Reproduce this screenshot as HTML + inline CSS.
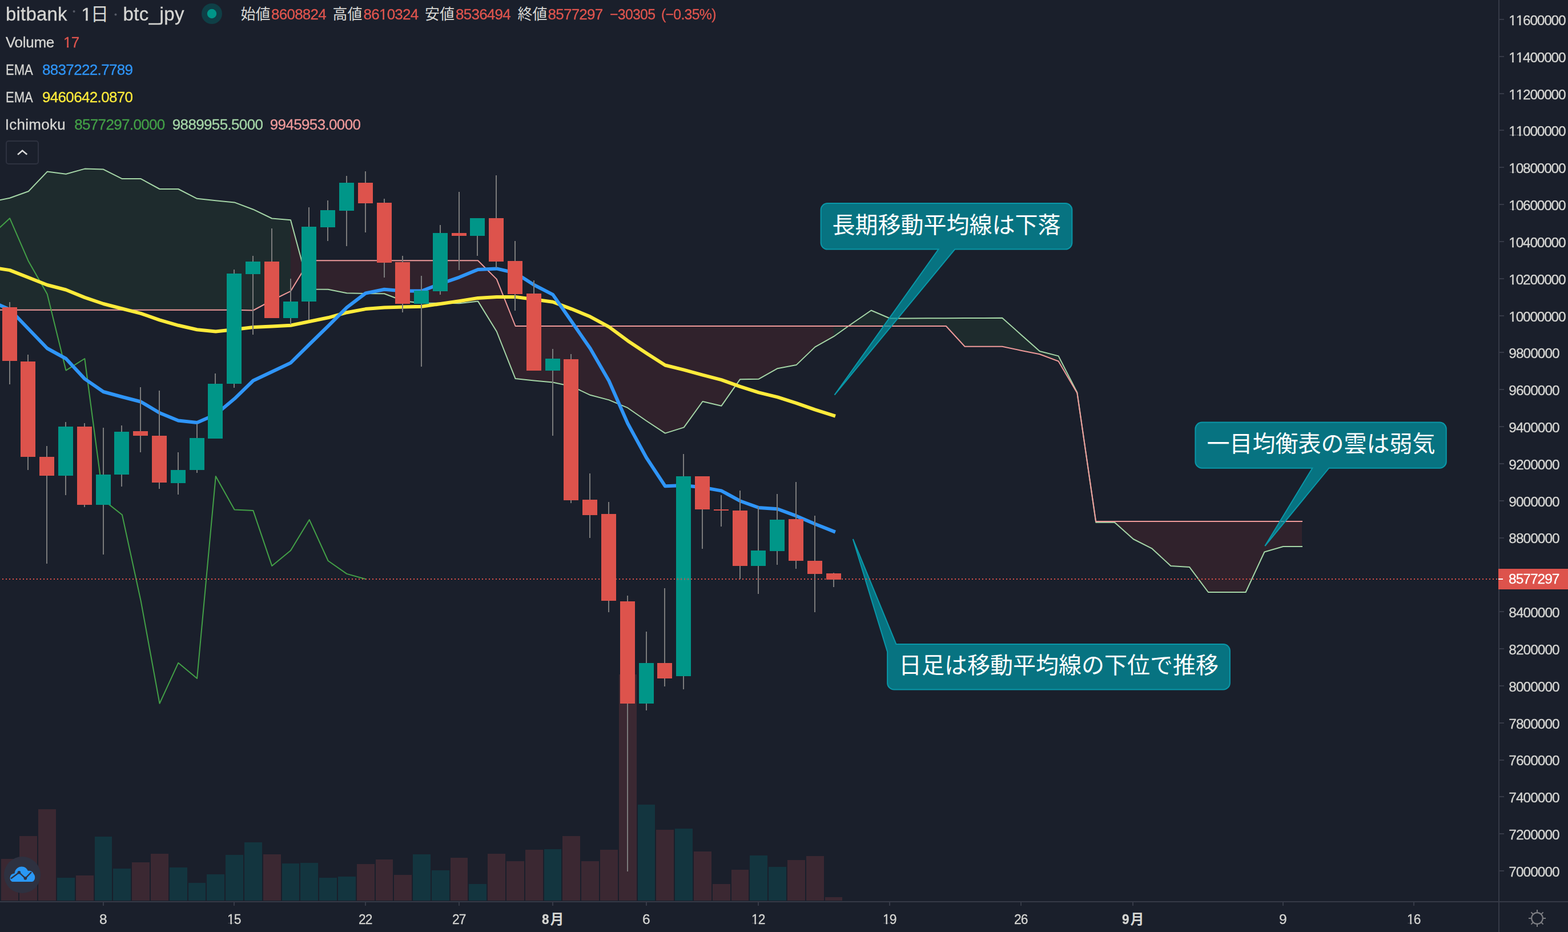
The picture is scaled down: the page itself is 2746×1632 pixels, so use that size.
<!DOCTYPE html>
<html lang="ja"><head><meta charset="utf-8"><title>bitbank btc_jpy 1日</title>
<style>
html,body{margin:0;padding:0;background:#1a1f2b;}
body{width:2746px;height:1632px;position:relative;overflow:hidden;font-family:"Liberation Sans",sans-serif;}
.t{position:absolute;white-space:nowrap;line-height:normal;transform-origin:0 0;-webkit-text-stroke:0.3px currentColor;font-family:"Liberation Sans",sans-serif;}
.o{display:inline-block;line-height:1;height:1em;vertical-align:baseline;clip-path:polygon(0 0,1em 0,1em 0.745em,0.35em 0.745em,0.35em 1em,0.24em 1em,0.24em 0.745em,0 0.745em);}
svg text{font-family:"Liberation Sans","Noto Sans CJK JP",sans-serif;}
</style></head><body>
<svg width="2746" height="1632" viewBox="0 0 2746 1632" style="position:absolute;left:0;top:0">
<g shape-rendering="crispEdges">
<rect x="2" y="1504" width="30" height="73" fill="#3b2832"/>
<rect x="34" y="1464" width="31" height="113" fill="#3b2832"/>
<rect x="67" y="1417" width="31" height="160" fill="#3b2832"/>
<rect x="100" y="1537" width="31" height="40" fill="#13353f"/>
<rect x="133" y="1533" width="31" height="44" fill="#3b2832"/>
<rect x="166" y="1465" width="30" height="112" fill="#13353f"/>
<rect x="198" y="1521" width="31" height="56" fill="#13353f"/>
<rect x="231" y="1510" width="31" height="67" fill="#3b2832"/>
<rect x="264" y="1495" width="31" height="82" fill="#3b2832"/>
<rect x="297" y="1519" width="31" height="58" fill="#13353f"/>
<rect x="330" y="1546" width="30" height="31" fill="#13353f"/>
<rect x="362" y="1531" width="31" height="46" fill="#13353f"/>
<rect x="395" y="1497" width="31" height="80" fill="#13353f"/>
<rect x="428" y="1475" width="31" height="102" fill="#13353f"/>
<rect x="461" y="1496" width="31" height="81" fill="#3b2832"/>
<rect x="494" y="1512" width="30" height="65" fill="#13353f"/>
<rect x="526" y="1511" width="31" height="66" fill="#13353f"/>
<rect x="559" y="1537" width="31" height="40" fill="#13353f"/>
<rect x="592" y="1535" width="31" height="42" fill="#13353f"/>
<rect x="625" y="1513" width="31" height="64" fill="#3b2832"/>
<rect x="658" y="1505" width="30" height="72" fill="#3b2832"/>
<rect x="690" y="1532" width="31" height="45" fill="#3b2832"/>
<rect x="723" y="1496" width="31" height="81" fill="#13353f"/>
<rect x="756" y="1524" width="31" height="53" fill="#13353f"/>
<rect x="789" y="1502" width="30" height="75" fill="#3b2832"/>
<rect x="821" y="1548" width="31" height="29" fill="#13353f"/>
<rect x="854" y="1495" width="31" height="82" fill="#3b2832"/>
<rect x="887" y="1508" width="31" height="69" fill="#3b2832"/>
<rect x="920" y="1488" width="31" height="89" fill="#3b2832"/>
<rect x="953" y="1487" width="30" height="90" fill="#13353f"/>
<rect x="985" y="1464" width="31" height="113" fill="#3b2832"/>
<rect x="1018" y="1508" width="31" height="69" fill="#3b2832"/>
<rect x="1051" y="1488" width="31" height="89" fill="#3b2832"/>
<rect x="1084" y="1181" width="31" height="396" fill="#3b2832"/>
<rect x="1117" y="1409" width="30" height="168" fill="#13353f"/>
<rect x="1149" y="1453" width="31" height="124" fill="#3b2832"/>
<rect x="1182" y="1451" width="31" height="126" fill="#13353f"/>
<rect x="1215" y="1491" width="31" height="86" fill="#3b2832"/>
<rect x="1248" y="1548" width="31" height="29" fill="#3b2832"/>
<rect x="1281" y="1523" width="30" height="54" fill="#3b2832"/>
<rect x="1313" y="1498" width="31" height="79" fill="#13353f"/>
<rect x="1346" y="1518" width="31" height="59" fill="#13353f"/>
<rect x="1379" y="1506" width="31" height="71" fill="#3b2832"/>
<rect x="1412" y="1499" width="31" height="78" fill="#3b2832"/>
<rect x="1445" y="1571" width="30" height="6" fill="#3b2832"/>
</g>
<g stroke="none">
<path d="M-15.7 353.3L17.1 346.8L49.9 335L82.7 300.6L115.5 304.7L148.3 295.6L181.1 296.6L213.9 313.1L246.7 313.1L279.5 331L312.3 331L345.1 347.8L377.8 351.2L410.6 354.4L443.4 366.7L476.2 382.5L509 385.2L509 509.8L476.2 526L443.4 543.5L410.6 542.8L377.8 542.8L345.1 542.8L312.3 542.8L279.5 542.8L246.7 542.8L213.9 542.8L181.1 542.8L148.3 542.8L115.5 542.8L82.7 542.8L49.9 542.8L17.1 542.8L-15.7 542.8Z" fill="rgba(67,160,71,0.1)"/>
<path d="M509 385.2L541.8 506.4L574.6 506.8L607.4 513.2L640.2 513.9L673 514.2L705.8 526.8L738.6 531L771.4 530.6L804.2 531.2L837 527.4L869.8 580.5L902.6 663.1L935.4 666.4L968.2 669.5L1001 676.5L1033.7 691.8L1066.5 700.4L1099.3 714.2L1132.1 737L1164.9 758.6L1197.7 748.4L1230.5 703L1263.3 710.8L1296.1 664.2L1328.9 663.7L1361.7 645.2L1394.5 639.1L1427.3 607.6L1460.1 589.2L1460.1 571L1427.3 571L1394.5 571L1361.7 571L1328.9 571L1296.1 571L1263.3 571L1230.5 571L1197.7 571L1164.9 571L1132.1 571L1099.3 571L1066.5 571L1033.7 571L1001 571L968.2 571L935.4 571L902.6 571L869.8 488.9L837 456.3L804.2 456.3L771.4 456.3L738.6 456.3L705.8 456.3L673 456.3L640.2 456.3L607.4 456.3L574.6 456.3L541.8 456.3L509 509.8Z" fill="rgba(244,67,54,0.1)"/>
<path d="M1460.1 589.2L1492.9 566L1525.7 543.5L1558.5 557.5L1591.3 557.4L1624.1 557.3L1656.8 557.2L1689.6 557.1L1722.4 557L1755.2 556.7L1788 585.9L1820.8 615L1853.6 623.4L1886.4 687.3L1886.4 688.3L1853.6 632.5L1820.8 620.2L1788 613.7L1755.2 606.8L1722.4 606.8L1689.6 606.8L1656.8 571L1624.1 571L1591.3 571L1558.5 571L1525.7 571L1492.9 571L1460.1 571Z" fill="rgba(67,160,71,0.1)"/>
<path d="M1886.4 687.3L1919.2 914.7L1952 914.7L1984.8 944L2017.6 960.7L2050.4 991L2083.2 993.1L2116 1037L2148.8 1037L2181.6 1037L2214.4 966.5L2247.2 957L2280 957L2280 913.1L2247.2 913.1L2214.4 913.1L2181.6 913.1L2148.8 913.1L2116 913.1L2083.2 913.1L2050.4 913.1L2017.6 913.1L1984.8 913.1L1952 913.1L1919.2 913.1L1886.4 688.3Z" fill="rgba(244,67,54,0.1)"/>
</g>
<polyline points="-15.7,353.3 17.1,346.8 49.9,335 82.7,300.6 115.5,304.7 148.3,295.6 181.1,296.6 213.9,313.1 246.7,313.1 279.5,331 312.3,331 345.1,347.8 377.8,351.2 410.6,354.4 443.4,366.7 476.2,382.5 509,385.2 541.8,506.4 574.6,506.8 607.4,513.2 640.2,513.9 673,514.2 705.8,526.8 738.6,531 771.4,530.6 804.2,531.2 837,527.4 869.8,580.5 902.6,663.1 935.4,666.4 968.2,669.5 1001,676.5 1033.7,691.8 1066.5,700.4 1099.3,714.2 1132.1,737 1164.9,758.6 1197.7,748.4 1230.5,703 1263.3,710.8 1296.1,664.2 1328.9,663.7 1361.7,645.2 1394.5,639.1 1427.3,607.6 1460.1,589.2 1492.9,566 1525.7,543.5 1558.5,557.5 1591.3,557.4 1624.1,557.3 1656.8,557.2 1689.6,557.1 1722.4,557 1755.2,556.7 1788,585.9 1820.8,615 1853.6,623.4 1886.4,687.3 1919.2,914.7 1952,914.7 1984.8,944 2017.6,960.7 2050.4,991 2083.2,993.1 2116,1037 2148.8,1037 2181.6,1037 2214.4,966.5 2247.2,957 2280,957" fill="none" stroke="#a5d6a7" stroke-width="2" stroke-linejoin="round" stroke-linecap="square"/>
<polyline points="-15.7,542.8 17.1,542.8 49.9,542.8 82.7,542.8 115.5,542.8 148.3,542.8 181.1,542.8 213.9,542.8 246.7,542.8 279.5,542.8 312.3,542.8 345.1,542.8 377.8,542.8 410.6,542.8 443.4,543.5 476.2,526 509,509.8 541.8,456.3 574.6,456.3 607.4,456.3 640.2,456.3 673,456.3 705.8,456.3 738.6,456.3 771.4,456.3 804.2,456.3 837,456.3 869.8,488.9 902.6,571 935.4,571 968.2,571 1001,571 1033.7,571 1066.5,571 1099.3,571 1132.1,571 1164.9,571 1197.7,571 1230.5,571 1263.3,571 1296.1,571 1328.9,571 1361.7,571 1394.5,571 1427.3,571 1460.1,571 1492.9,571 1525.7,571 1558.5,571 1591.3,571 1624.1,571 1656.8,571 1689.6,606.8 1722.4,606.8 1755.2,606.8 1788,613.7 1820.8,620.2 1853.6,632.5 1886.4,688.3 1919.2,913.1 1952,913.1 1984.8,913.1 2017.6,913.1 2050.4,913.1 2083.2,913.1 2116,913.1 2148.8,913.1 2181.6,913.1 2214.4,913.1 2247.2,913.1 2280,913.1" fill="none" stroke="#ef9a9a" stroke-width="2" stroke-linejoin="round" stroke-linecap="square"/>
<polyline points="-15.7,412.8 17.1,382.2 49.9,457.6 82.7,514.9 115.5,648.6 148.3,628 181.1,875.6 213.9,901.5 246.7,1052.4 279.5,1231.8 312.3,1160.7 345.1,1188 377.8,834.1 410.6,892.4 443.4,894.1 476.2,990.9 509,963.9 541.8,910.1 574.6,982 607.4,1004.9 640.2,1014" fill="none" stroke="#43a047" stroke-width="2" stroke-linejoin="round" stroke-linecap="square"/>
<polyline points="-15.7,468 17.1,473.1 49.9,486 82.7,499 115.5,507.5 148.3,520.9 181.1,532 213.9,540.5 246.7,548.9 279.5,560.3 312.3,569.8 345.1,577.2 377.8,580.5 410.6,577 443.4,573 476.2,571.5 509,569.8 541.8,563 574.6,556.3 607.4,547.2 640.2,541.1 673,538.4 705.8,537.6 738.6,536.8 771.4,532 804.2,527.2 837,521.9 869.8,519.9 902.6,519.9 935.4,524.3 968.2,528.7 1001,541.1 1033.7,554.6 1066.5,572.4 1099.3,596.7 1132.1,618.6 1164.9,639.5 1197.7,647.6 1230.5,656.7 1263.3,665.1 1296.1,676.9 1328.9,687.3 1361.7,695.4 1394.5,705.8 1427.3,717.3 1460.1,727.8" fill="none" stroke="#ffeb3b" stroke-width="6" stroke-linejoin="round" stroke-linecap="square"/>
<polyline points="-15.7,527.6 17.1,541.9 49.9,576 82.7,610 115.5,628 148.3,663.4 181.1,686 213.9,695 246.7,703.5 279.5,723 312.3,736.5 345.1,739.9 377.8,725.8 410.6,698.3 443.4,666.5 476.2,651 509,635.4 541.8,603 574.6,571 607.4,538.4 640.2,513.5 673,506.8 705.8,509.5 738.6,509.5 771.4,497 804.2,485.6 837,472.1 869.8,470.4 902.6,478 935.4,499 968.2,515.9 1001,563 1033.7,610.2 1066.5,667 1099.3,741.5 1132.1,801.5 1164.9,851.3 1197.7,850 1230.5,853.5 1263.3,859.4 1296.1,877.2 1328.9,889 1361.7,891.2 1394.5,903.4 1427.3,917.5 1460.1,930.5" fill="none" stroke="#2f95f8" stroke-width="6" stroke-linejoin="round" stroke-linecap="square"/>
<g shape-rendering="crispEdges">
<rect x="16" y="529" width="2" height="144" fill="#7b7b7b"/>
<rect x="4" y="538" width="26" height="94" fill="#dd534c"/>
<rect x="48" y="621" width="2" height="202" fill="#7b7b7b"/>
<rect x="36" y="633" width="26" height="167" fill="#dd534c"/>
<rect x="81" y="781" width="2" height="206" fill="#7b7b7b"/>
<rect x="69" y="800" width="26" height="33" fill="#dd534c"/>
<rect x="114" y="739" width="2" height="128" fill="#7b7b7b"/>
<rect x="102" y="747" width="26" height="86" fill="#009688"/>
<rect x="147" y="741" width="2" height="147" fill="#7b7b7b"/>
<rect x="135" y="747" width="26" height="137" fill="#dd534c"/>
<rect x="180" y="749" width="2" height="222" fill="#7b7b7b"/>
<rect x="168" y="831" width="26" height="53" fill="#009688"/>
<rect x="212" y="745" width="2" height="107" fill="#7b7b7b"/>
<rect x="200" y="756" width="26" height="75" fill="#009688"/>
<rect x="245" y="678" width="2" height="114" fill="#7b7b7b"/>
<rect x="233" y="755" width="26" height="8" fill="#dd534c"/>
<rect x="278" y="684" width="2" height="172" fill="#7b7b7b"/>
<rect x="266" y="763" width="26" height="82" fill="#dd534c"/>
<rect x="311" y="792" width="2" height="74" fill="#7b7b7b"/>
<rect x="299" y="823" width="26" height="23" fill="#009688"/>
<rect x="344" y="742" width="2" height="86" fill="#7b7b7b"/>
<rect x="332" y="767" width="26" height="56" fill="#009688"/>
<rect x="376" y="654" width="2" height="114" fill="#7b7b7b"/>
<rect x="364" y="672" width="26" height="96" fill="#009688"/>
<rect x="409" y="472" width="2" height="207" fill="#7b7b7b"/>
<rect x="397" y="479" width="26" height="193" fill="#009688"/>
<rect x="442" y="448" width="2" height="138" fill="#7b7b7b"/>
<rect x="430" y="458" width="26" height="22" fill="#009688"/>
<rect x="475" y="400" width="2" height="157" fill="#7b7b7b"/>
<rect x="463" y="458" width="26" height="99" fill="#dd534c"/>
<rect x="508" y="488" width="2" height="80" fill="#7b7b7b"/>
<rect x="496" y="528" width="26" height="29" fill="#009688"/>
<rect x="540" y="363" width="2" height="197" fill="#7b7b7b"/>
<rect x="528" y="397" width="26" height="131" fill="#009688"/>
<rect x="573" y="351" width="2" height="71" fill="#7b7b7b"/>
<rect x="561" y="368" width="26" height="30" fill="#009688"/>
<rect x="606" y="308" width="2" height="123" fill="#7b7b7b"/>
<rect x="594" y="320" width="26" height="49" fill="#009688"/>
<rect x="639" y="300" width="2" height="107" fill="#7b7b7b"/>
<rect x="627" y="320" width="26" height="36" fill="#dd534c"/>
<rect x="672" y="348" width="2" height="138" fill="#7b7b7b"/>
<rect x="660" y="355" width="26" height="105" fill="#dd534c"/>
<rect x="704" y="448" width="2" height="99" fill="#7b7b7b"/>
<rect x="692" y="459" width="26" height="73" fill="#dd534c"/>
<rect x="737" y="483" width="2" height="159" fill="#7b7b7b"/>
<rect x="725" y="509" width="26" height="23" fill="#009688"/>
<rect x="770" y="394" width="2" height="122" fill="#7b7b7b"/>
<rect x="758" y="408" width="26" height="102" fill="#009688"/>
<rect x="803" y="336" width="2" height="137" fill="#7b7b7b"/>
<rect x="791" y="408" width="26" height="5" fill="#dd534c"/>
<rect x="835" y="382" width="2" height="66" fill="#7b7b7b"/>
<rect x="823" y="382" width="26" height="31" fill="#009688"/>
<rect x="868" y="307" width="2" height="162" fill="#7b7b7b"/>
<rect x="856" y="382" width="26" height="76" fill="#dd534c"/>
<rect x="901" y="422" width="2" height="122" fill="#7b7b7b"/>
<rect x="889" y="457" width="26" height="58" fill="#dd534c"/>
<rect x="934" y="491" width="2" height="158" fill="#7b7b7b"/>
<rect x="922" y="514" width="26" height="135" fill="#dd534c"/>
<rect x="967" y="611" width="2" height="152" fill="#7b7b7b"/>
<rect x="955" y="628" width="26" height="21" fill="#009688"/>
<rect x="999" y="620" width="2" height="261" fill="#7b7b7b"/>
<rect x="987" y="629" width="26" height="247" fill="#dd534c"/>
<rect x="1032" y="829" width="2" height="113" fill="#7b7b7b"/>
<rect x="1020" y="875" width="26" height="27" fill="#dd534c"/>
<rect x="1065" y="879" width="2" height="193" fill="#7b7b7b"/>
<rect x="1053" y="900" width="26" height="152" fill="#dd534c"/>
<rect x="1098" y="1043" width="2" height="483" fill="#7b7b7b"/>
<rect x="1086" y="1053" width="26" height="179" fill="#dd534c"/>
<rect x="1131" y="1106" width="2" height="138" fill="#7b7b7b"/>
<rect x="1119" y="1161" width="26" height="71" fill="#009688"/>
<rect x="1163" y="1030" width="2" height="172" fill="#7b7b7b"/>
<rect x="1151" y="1161" width="26" height="27" fill="#dd534c"/>
<rect x="1196" y="795" width="2" height="412" fill="#7b7b7b"/>
<rect x="1184" y="834" width="26" height="350" fill="#009688"/>
<rect x="1229" y="834" width="2" height="127" fill="#7b7b7b"/>
<rect x="1217" y="834" width="26" height="58" fill="#dd534c"/>
<rect x="1262" y="867" width="2" height="55" fill="#7b7b7b"/>
<rect x="1250" y="892" width="26" height="2" fill="#dd534c"/>
<rect x="1295" y="859" width="2" height="155" fill="#7b7b7b"/>
<rect x="1283" y="894" width="26" height="97" fill="#dd534c"/>
<rect x="1327" y="887" width="2" height="153" fill="#7b7b7b"/>
<rect x="1315" y="964" width="26" height="27" fill="#009688"/>
<rect x="1360" y="865" width="2" height="124" fill="#7b7b7b"/>
<rect x="1348" y="910" width="26" height="55" fill="#009688"/>
<rect x="1393" y="844" width="2" height="152" fill="#7b7b7b"/>
<rect x="1381" y="909" width="26" height="73" fill="#dd534c"/>
<rect x="1426" y="903" width="2" height="169" fill="#7b7b7b"/>
<rect x="1414" y="982" width="26" height="23" fill="#dd534c"/>
<rect x="1459" y="1003" width="2" height="25" fill="#7b7b7b"/>
<rect x="1447" y="1004" width="26" height="11" fill="#dd534c"/>
</g>
<g shape-rendering="crispEdges">
<rect x="2624" y="0" width="2" height="1632" fill="#363a47"/>
<rect x="0" y="1578" width="2746" height="2" fill="#363a47"/>
<rect x="2626" y="33" width="8" height="2" fill="#363a47"/>
<rect x="2626" y="98" width="8" height="2" fill="#363a47"/>
<rect x="2626" y="163" width="8" height="2" fill="#363a47"/>
<rect x="2626" y="227" width="8" height="2" fill="#363a47"/>
<rect x="2626" y="292" width="8" height="2" fill="#363a47"/>
<rect x="2626" y="357" width="8" height="2" fill="#363a47"/>
<rect x="2626" y="422" width="8" height="2" fill="#363a47"/>
<rect x="2626" y="487" width="8" height="2" fill="#363a47"/>
<rect x="2626" y="552" width="8" height="2" fill="#363a47"/>
<rect x="2626" y="616" width="8" height="2" fill="#363a47"/>
<rect x="2626" y="681" width="8" height="2" fill="#363a47"/>
<rect x="2626" y="746" width="8" height="2" fill="#363a47"/>
<rect x="2626" y="811" width="8" height="2" fill="#363a47"/>
<rect x="2626" y="876" width="8" height="2" fill="#363a47"/>
<rect x="2626" y="941" width="8" height="2" fill="#363a47"/>
<rect x="2626" y="1005" width="8" height="2" fill="#363a47"/>
<rect x="2626" y="1070" width="8" height="2" fill="#363a47"/>
<rect x="2626" y="1135" width="8" height="2" fill="#363a47"/>
<rect x="2626" y="1200" width="8" height="2" fill="#363a47"/>
<rect x="2626" y="1265" width="8" height="2" fill="#363a47"/>
<rect x="2626" y="1330" width="8" height="2" fill="#363a47"/>
<rect x="2626" y="1394" width="8" height="2" fill="#363a47"/>
<rect x="2626" y="1459" width="8" height="2" fill="#363a47"/>
<rect x="2626" y="1524" width="8" height="2" fill="#363a47"/>
<rect x="180" y="1580" width="2" height="6" fill="#363a47"/>
<rect x="409" y="1580" width="2" height="6" fill="#363a47"/>
<rect x="639" y="1580" width="2" height="6" fill="#363a47"/>
<rect x="803" y="1580" width="2" height="6" fill="#363a47"/>
<rect x="967" y="1580" width="2" height="6" fill="#363a47"/>
<rect x="1131" y="1580" width="2" height="6" fill="#363a47"/>
<rect x="1327" y="1580" width="2" height="6" fill="#363a47"/>
<rect x="1557" y="1580" width="2" height="6" fill="#363a47"/>
<rect x="1787" y="1580" width="2" height="6" fill="#363a47"/>
<rect x="1983" y="1580" width="2" height="6" fill="#363a47"/>
<rect x="2246" y="1580" width="2" height="6" fill="#363a47"/>
<rect x="2475" y="1580" width="2" height="6" fill="#363a47"/>
</g>
<path d="M1449.1 356.1H1865.9A11.5 11.5 0 0 1 1877.4 367.6V425.1A11.5 11.5 0 0 1 1865.9 436.6H1672.2L1461.5 691.5L1643.5 436.6H1449.1A11.5 11.5 0 0 1 1437.6 425.1V367.6A11.5 11.5 0 0 1 1449.1 356.1Z" fill="rgba(0,151,167,0.7)" stroke="#0a97a8" stroke-width="2" stroke-linejoin="miter"/>
<path d="M2104.9 739.6H2521.3A11.5 11.5 0 0 1 2532.8 751.1V808.2A11.5 11.5 0 0 1 2521.3 819.7H2327.4L2215.3 956L2298.3 819.7H2104.9A11.5 11.5 0 0 1 2093.4 808.2V751.1A11.5 11.5 0 0 1 2104.9 739.6Z" fill="rgba(0,151,167,0.7)" stroke="#0a97a8" stroke-width="2" stroke-linejoin="miter"/>
<path d="M1569.4 1128H2142.4A11.5 11.5 0 0 1 2153.9 1139.5V1195.9A11.5 11.5 0 0 1 2142.4 1207.4H1565.6A11.5 11.5 0 0 1 1554.1 1195.9V1141.5L1493.8 944Z" fill="rgba(0,151,167,0.7)" stroke="#0a97a8" stroke-width="2" stroke-linejoin="miter"/>
<g shape-rendering="crispEdges">
<line x1="4" y1="1014" x2="2624" y2="1014" stroke="#dd534c" stroke-width="2" stroke-dasharray="2 4"/>
<rect x="2624" y="996" width="122" height="36" fill="#dd534c"/>
<rect x="2624" y="1013" width="8" height="2" fill="#fff"/>
</g>
<circle cx="371" cy="24" r="18" fill="#0f3f46"/><circle cx="371" cy="24" r="8.2" fill="#009688"/>
<circle cx="129.6" cy="20" r="2" fill="#565a66"/><circle cx="202.5" cy="25.6" r="2" fill="#565a66"/>
<rect x="11" y="247" width="56" height="40" rx="4" ry="4" fill="none" stroke="#2e3240" stroke-width="2"/>
<path d="M31 270.7L39.2 263.8L47.3 270.6" fill="none" stroke="#d9d9d9" stroke-width="2.6"/>
<g stroke="#7d7e83" stroke-width="2" fill="none"><circle cx="2692" cy="1608" r="9.8" stroke-width="2.2"/><path d="M2702.6 1608L2707 1608"/><path d="M2699.5 1615.5L2702.6 1618.6"/><path d="M2692 1618.6L2692 1623"/><path d="M2684.5 1615.5L2681.4 1618.6"/><path d="M2681.4 1608L2677 1608"/><path d="M2684.5 1600.5L2681.4 1597.4"/><path d="M2692 1597.4L2692 1593"/><path d="M2699.5 1600.5L2702.6 1597.4"/></g>
<circle cx="39" cy="1532" r="32" fill="#2e3140"/>
<path d="M23 1544 C17.5 1544 16.5 1537 18.5 1533.5 C20 1530.5 23 1529.5 25.5 1529.5 C26 1522 32 1517.5 38 1517.5 C43.5 1517.5 47 1520.5 49 1525 C53 1524 57.5 1526 59 1530.5 C62 1533 62 1540 58.5 1543 C57.5 1543.8 56.5 1544 55 1544 Z" fill="#2a98f5"/>
<path d="M19 1538.5L33.4 1527.7L44.4 1538L55 1527" fill="none" stroke="#2e3140" stroke-width="2.4"/>
<circle cx="33.4" cy="1527.7" r="2.8" fill="#2e3140"/><circle cx="44.4" cy="1538" r="2.8" fill="#2e3140"/>
<text x="1457.5" y="408.2" font-size="40" fill="#fff">長期移動平均線は下落</text>
<text x="2113.4" y="790.8" font-size="40" fill="#fff">一目均衡表の雲は弱気</text>
<text x="1574" y="1179.4" font-size="40" fill="#fff">日足は移動平均線の下位で推移</text>
<text x="158.8" y="35.7" font-size="31.5" fill="#d6d6d3">日</text>
<text x="421.6" y="33.8" font-size="26" fill="#d6d6d3">始値</text>
<text x="582.5" y="33.8" font-size="26" fill="#d6d6d3">高値</text>
<text x="744.1" y="33.8" font-size="26" fill="#d6d6d3">安値</text>
<text x="906.4" y="33.8" font-size="26" fill="#d6d6d3">終値</text>
<text x="963.5" y="1617.7" font-size="24" font-weight="bold" fill="#d6d6d3">月</text>
<text x="1979.5" y="1617.7" font-size="24" font-weight="bold" fill="#d6d6d3">月</text>
</svg>
<div id="labels" style="position:absolute;left:0;top:0;width:2746px;height:1632px;will-change:transform;">
<div class="t" style="left:10px;top:6.2px;font-size:33px;color:#d6d6d3;letter-spacing:0.2px;">bitbank</div>
<div class="t" style="left:142.5px;top:7.1px;font-size:32px;color:#d6d6d3;"><span class="o">1</span></div>
<div class="t" style="left:215.4px;top:6.2px;font-size:33px;color:#d6d6d3;letter-spacing:0.42px;">btc_jpy</div>
<div class="t" style="left:475px;top:10.3px;font-size:26px;color:#e0554e;letter-spacing:-0.75px;">8608824</div>
<div class="t" style="left:636.5px;top:10.3px;font-size:26px;color:#e0554e;letter-spacing:-0.75px;">86<span class="o">1</span>0324</div>
<div class="t" style="left:798px;top:10.3px;font-size:26px;color:#e0554e;letter-spacing:-0.75px;">8536494</div>
<div class="t" style="left:959.5px;top:10.3px;font-size:26px;color:#e0554e;letter-spacing:-0.75px;">8577297</div>
<div class="t" style="left:1067.8px;top:10.3px;font-size:26px;color:#e0554e;letter-spacing:-0.75px;transform:scaleX(0.955);">−30305</div>
<div class="t" style="left:1158px;top:10.3px;font-size:26px;color:#e0554e;letter-spacing:-0.75px;transform:scaleX(0.955);">(−0.35%)</div>
<div class="t" style="left:10px;top:59.2px;font-size:26px;color:#d6d6d3;letter-spacing:-0.3px;">Volume</div>
<div class="t" style="left:111px;top:59.2px;font-size:26px;color:#e0554e;letter-spacing:-0.75px;"><span class="o">1</span>7</div>
<div class="t" style="left:9.7px;top:107.1px;font-size:26px;color:#d6d6d3;transform:scaleX(0.845);">EMA</div>
<div class="t" style="left:73.9px;top:107.1px;font-size:26px;color:#2f95f8;letter-spacing:-0.65px;">8837222.7789</div>
<div class="t" style="left:9.7px;top:155.1px;font-size:26px;color:#d6d6d3;transform:scaleX(0.845);">EMA</div>
<div class="t" style="left:73.9px;top:155.1px;font-size:26px;color:#ffeb3b;letter-spacing:-0.65px;">9460642.0870</div>
<div class="t" style="left:8.8px;top:203px;font-size:26px;color:#d6d6d3;letter-spacing:0.25px;">Ichimoku</div>
<div class="t" style="left:130.2px;top:203px;font-size:26px;color:#43a047;letter-spacing:-0.65px;">8577297.0000</div>
<div class="t" style="left:301.8px;top:203px;font-size:26px;color:#a5d6a7;letter-spacing:-0.65px;">9889955.5000</div>
<div class="t" style="left:472.8px;top:203px;font-size:26px;color:#ef9a9a;letter-spacing:-0.65px;">9945953.0000</div>
<div class="t" style="left:2642.3px;top:21.8px;font-size:24.5px;color:#d6d6d3;letter-spacing:-1.25px;"><span class="o">1</span><span class="o">1</span>600000</div>
<div class="t" style="left:2642.3px;top:86.7px;font-size:24.5px;color:#d6d6d3;letter-spacing:-1.25px;"><span class="o">1</span><span class="o">1</span>400000</div>
<div class="t" style="left:2642.3px;top:151.5px;font-size:24.5px;color:#d6d6d3;letter-spacing:-1.25px;"><span class="o">1</span><span class="o">1</span>200000</div>
<div class="t" style="left:2642.3px;top:216.3px;font-size:24.5px;color:#d6d6d3;letter-spacing:-1.25px;"><span class="o">1</span><span class="o">1</span>000000</div>
<div class="t" style="left:2642.3px;top:281.1px;font-size:24.5px;color:#d6d6d3;letter-spacing:-1.25px;"><span class="o">1</span>0800000</div>
<div class="t" style="left:2642.3px;top:346px;font-size:24.5px;color:#d6d6d3;letter-spacing:-1.25px;"><span class="o">1</span>0600000</div>
<div class="t" style="left:2642.3px;top:410.8px;font-size:24.5px;color:#d6d6d3;letter-spacing:-1.25px;"><span class="o">1</span>0400000</div>
<div class="t" style="left:2642.3px;top:475.6px;font-size:24.5px;color:#d6d6d3;letter-spacing:-1.25px;"><span class="o">1</span>0200000</div>
<div class="t" style="left:2642.3px;top:540.5px;font-size:24.5px;color:#d6d6d3;letter-spacing:-1.25px;"><span class="o">1</span>0000000</div>
<div class="t" style="left:2642.3px;top:605.3px;font-size:24.5px;color:#d6d6d3;letter-spacing:-1.0px;">9800000</div>
<div class="t" style="left:2642.3px;top:670.1px;font-size:24.5px;color:#d6d6d3;letter-spacing:-1.0px;">9600000</div>
<div class="t" style="left:2642.3px;top:735px;font-size:24.5px;color:#d6d6d3;letter-spacing:-1.0px;">9400000</div>
<div class="t" style="left:2642.3px;top:799.8px;font-size:24.5px;color:#d6d6d3;letter-spacing:-1.0px;">9200000</div>
<div class="t" style="left:2642.3px;top:864.6px;font-size:24.5px;color:#d6d6d3;letter-spacing:-1.0px;">9000000</div>
<div class="t" style="left:2642.3px;top:929.4px;font-size:24.5px;color:#d6d6d3;letter-spacing:-1.0px;">8800000</div>
<div class="t" style="left:2642.3px;top:1059.1px;font-size:24.5px;color:#d6d6d3;letter-spacing:-1.0px;">8400000</div>
<div class="t" style="left:2642.3px;top:1123.9px;font-size:24.5px;color:#d6d6d3;letter-spacing:-1.0px;">8200000</div>
<div class="t" style="left:2642.3px;top:1188.8px;font-size:24.5px;color:#d6d6d3;letter-spacing:-1.0px;">8000000</div>
<div class="t" style="left:2642.3px;top:1253.6px;font-size:24.5px;color:#d6d6d3;letter-spacing:-1.0px;">7800000</div>
<div class="t" style="left:2642.3px;top:1318.4px;font-size:24.5px;color:#d6d6d3;letter-spacing:-1.0px;">7600000</div>
<div class="t" style="left:2642.3px;top:1383.3px;font-size:24.5px;color:#d6d6d3;letter-spacing:-1.0px;">7400000</div>
<div class="t" style="left:2642.3px;top:1448.1px;font-size:24.5px;color:#d6d6d3;letter-spacing:-1.0px;">7200000</div>
<div class="t" style="left:2642.3px;top:1512.9px;font-size:24.5px;color:#d6d6d3;letter-spacing:-1.0px;">7000000</div>
<div class="t" style="left:2642px;top:1000.4px;font-size:24.5px;color:#fff;letter-spacing:-1.0px;">8577297</div>
<div class="t" style="left:174.1px;top:1596.1px;font-size:24.5px;color:#d6d6d3;">8</div>
<div class="t" style="left:398.4px;top:1596.1px;font-size:24.5px;color:#d6d6d3;letter-spacing:-1.0px;transform:scaleX(0.93);"><span class="o">1</span>5</div>
<div class="t" style="left:628.4px;top:1596.1px;font-size:24.5px;color:#d6d6d3;letter-spacing:-1.0px;transform:scaleX(0.93);">22</div>
<div class="t" style="left:792.4px;top:1596.1px;font-size:24.5px;color:#d6d6d3;letter-spacing:-1.0px;transform:scaleX(0.93);">27</div>
<div class="t" style="left:949.4px;top:1596.1px;font-size:24.5px;color:#d6d6d3;font-weight:bold;transform:scaleX(0.92);">8</div>
<div class="t" style="left:1125.1px;top:1596.1px;font-size:24.5px;color:#d6d6d3;">6</div>
<div class="t" style="left:1316.4px;top:1596.1px;font-size:24.5px;color:#d6d6d3;letter-spacing:-1.0px;transform:scaleX(0.93);"><span class="o">1</span>2</div>
<div class="t" style="left:1546.4px;top:1596.1px;font-size:24.5px;color:#d6d6d3;letter-spacing:-1.0px;transform:scaleX(0.93);"><span class="o">1</span>9</div>
<div class="t" style="left:1776.4px;top:1596.1px;font-size:24.5px;color:#d6d6d3;letter-spacing:-1.0px;transform:scaleX(0.93);">26</div>
<div class="t" style="left:1965.4px;top:1596.1px;font-size:24.5px;color:#d6d6d3;font-weight:bold;transform:scaleX(0.92);">9</div>
<div class="t" style="left:2240.1px;top:1596.1px;font-size:24.5px;color:#d6d6d3;">9</div>
<div class="t" style="left:2464.4px;top:1596.1px;font-size:24.5px;color:#d6d6d3;letter-spacing:-1.0px;transform:scaleX(0.93);"><span class="o">1</span>6</div>
</div>
</body></html>
